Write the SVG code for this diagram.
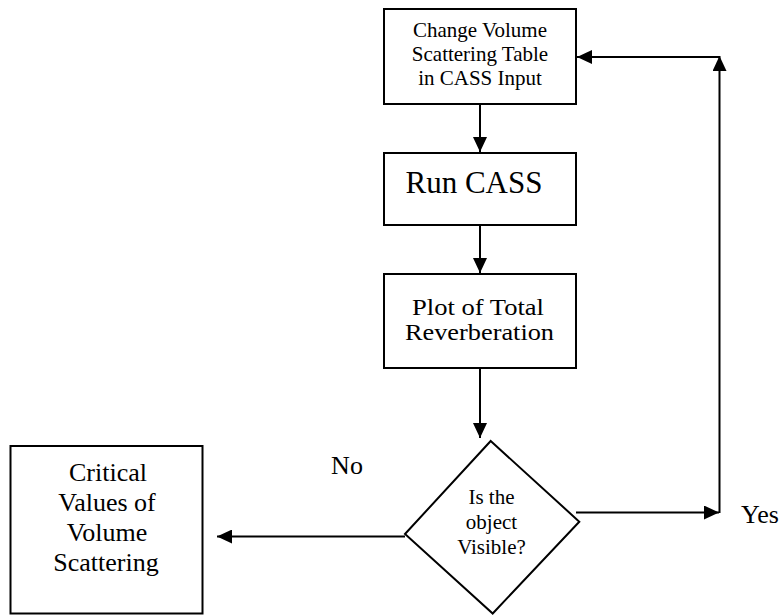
<svg xmlns="http://www.w3.org/2000/svg" width="783" height="615" viewBox="0 0 783 615">
<style>
.box{fill:#fff;stroke:#000;stroke-width:2}
.ln{fill:none;stroke:#000;stroke-width:2}
text{font-family:"Liberation Serif","Times New Roman",serif;fill:#000;text-anchor:middle}
</style>
<defs>
<marker id="ah" viewBox="0 0 15 14" refX="15" refY="7" markerWidth="15" markerHeight="14" markerUnits="userSpaceOnUse" orient="auto">
<path d="M0,0 L15,7 L0,14 Z" fill="#000"/>
</marker>
</defs>
<rect width="783" height="615" fill="#fff"/>
<g id="connectors">
<line class="ln" x1="480" y1="104" x2="480" y2="152" marker-end="url(#ah)"/>
<line class="ln" x1="480" y1="225" x2="480" y2="273" marker-end="url(#ah)"/>
<line class="ln" x1="480" y1="368" x2="480" y2="438" marker-end="url(#ah)"/>
<line class="ln" x1="405" y1="536.5" x2="217" y2="536.5" marker-end="url(#ah)"/>
<line class="ln" x1="576" y1="512.5" x2="719" y2="512.5" marker-end="url(#ah)"/>
<line class="ln" x1="719.5" y1="513" x2="719.5" y2="56" marker-end="url(#ah)"/>
<line class="ln" x1="720" y1="57" x2="577" y2="57" marker-end="url(#ah)"/>
</g>
<g id="n_change">
<rect class="box" x="384" y="9" width="192" height="95"/>
<text font-size="21" x="480" y="37">Change Volume</text>
<text font-size="21" x="480" y="61">Scattering Table</text>
<text font-size="21" x="480" y="85">in CASS Input</text>
</g>
<g id="n_run">
<rect class="box" x="384" y="153" width="192" height="72"/>
<text font-size="31" x="474" y="193">Run CASS</text>
</g>
<g id="n_plot">
<rect class="box" x="384" y="274" width="192" height="94"/>
<text font-size="23" x="478" y="315" textLength="132" lengthAdjust="spacingAndGlyphs">Plot of Total</text>
<text font-size="23" x="479.5" y="340" textLength="149" lengthAdjust="spacingAndGlyphs">Reverberation</text>
</g>
<g id="n_visible">
<path class="box" d="M490.7,441 L579.3,521.7 L492.7,613.5 L405,534 Z"/>
<text font-size="21" x="491.5" y="504">Is the</text>
<text font-size="21" x="491.5" y="529">object</text>
<text font-size="21" x="491.5" y="554">Visible?</text>
</g>
<g id="n_critical">
<rect class="box" x="10.5" y="446" width="192" height="167.5"/>
<text font-size="26" x="108" y="481">Critical</text>
<text font-size="26" x="107" y="511">Values of</text>
<text font-size="26" x="107" y="541">Volume</text>
<text font-size="26" x="106" y="571">Scattering</text>
</g>
<g id="labels">
<text font-size="26" x="347" y="474">No</text>
<text font-size="26" x="760" y="522.5">Yes</text>
</g>
</svg>
